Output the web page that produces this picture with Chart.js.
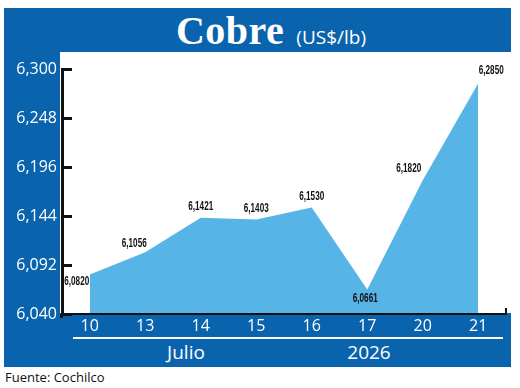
<!DOCTYPE html>
<html lang="es">
<head>
  <meta charset="UTF-8">
  <title>Cobre (US$/lb)</title>
  <style>
    body {
      margin: 0;
      background: #fff;
      font-family: "Open Sans", sans-serif;
    }
    #wrap {
      position: relative;
      width: 520px;
      height: 388px;
      overflow: hidden;
    }
    #frame {
      position: absolute;
      left: 4px; top: 8px;
      width: 507px; height: 359px;
      background: #0a64ad;
    }
    #plotBg {
      position: absolute;
      left: 60px; top: 52px;
      width: 460px; height: 261px;
      background: #fff;
    }
    #title {
      position: absolute;
      left: 11px; top: 8px;
      width: 520px; height: 44px;
      text-align: center;
      color: #fff;
      line-height: 46px;
      white-space: nowrap;
    }
    #title .big {
      font-family: "Liberation Serif", serif;
      font-weight: bold;
      font-size: 40px;
      letter-spacing: 0.5px;
    }
    #title .unit {
      font-size: 19px;
      margin-left: 12px;
    }
    .group {
      position: absolute;
      top: 339px;
      color: #fff;
      font-size: 19px;
      line-height: 26px;
      transform: translateX(-50%);
    }
    #rule {
      position: absolute;
      left: 73px; top: 337px;
      width: 430px; height: 2px;
      background: #fff;
    }
    #source {
      position: absolute;
      left: 5px; top: 368px;
      font-size: 13px;
      color: #111;
    }
    canvas {
      position: absolute;
      left: 0; top: 0;
    }
  </style>
</head>
<body>
  <div id="wrap">
    <div id="frame"></div>
    <div id="plotBg"></div>
    <div id="title"><span class="big">Cobre</span><span class="unit">(US$/lb)</span></div>
    <div id="rule"></div>
    <div class="group" style="left:186px">Julio</div>
    <div class="group" style="left:369px">2026</div>
    <div id="source">Fuente: Cochilco</div>
    <canvas id="chart" width="520" height="388"></canvas>
  </div>

  <script src="https://cdn.jsdelivr.net/npm/chart.js"></script>
  <script>
    // days of July 2026
    const days = ['10', '13', '14', '15', '16', '17', '20', '21'];
    const prices = [6.0820, 6.1056, 6.1421, 6.1403, 6.1530, 6.0661, 6.1820, 6.2850];
    const yTicks = [6.040, 6.092, 6.144, 6.196, 6.248, 6.300];

    // where each value label sits relative to its point (px)
    const labelOffsets = [[-13, 7], [-11, -8], [0, -11], [0, -11], [0, -11], [-2, 9], [-14, -12], [13, -12]];

    const comma = (v, d) => v.toFixed(d).replace('.', ',');

    const decorPlugin = {
      id: 'decor',
      afterDatasetsDraw(chart) {
        const ctx = chart.ctx;
        const y = chart.scales.y;
        const area = chart.chartArea;
        ctx.save();
        // inward ticks on the y axis
        ctx.strokeStyle = '#111';
        ctx.lineWidth = 3;
        y.ticks.forEach(t => {
          const py = Math.round(y.getPixelForValue(t.value)) + 0.5;
          ctx.beginPath();
          ctx.moveTo(area.left, py);
          ctx.lineTo(area.left + 10, py);
          ctx.stroke();
        });
        // y axis runs a bit past the x axis
        ctx.beginPath();
        ctx.moveTo(area.left - 0.5, area.bottom);
        ctx.lineTo(area.left - 0.5, area.bottom + 4);
        ctx.stroke();
        // x axis line with small end tick
        ctx.lineWidth = 2;
        ctx.beginPath();
        ctx.moveTo(area.left, area.bottom);
        ctx.lineTo(area.right, area.bottom);
        ctx.lineTo(area.right, area.bottom - 6);
        ctx.stroke();

        // value labels, condensed bold
        const meta = chart.getDatasetMeta(0);
        ctx.fillStyle = '#111';
        ctx.font = "bold 12px 'Liberation Sans', sans-serif";
        ctx.textAlign = 'center';
        ctx.textBaseline = 'middle';
        meta.data.forEach((pt, i) => {
          const [dx, dy] = labelOffsets[i];
          ctx.save();
          ctx.translate(pt.x + dx, pt.y + dy);
          ctx.scale(0.68, 1);
          ctx.fillText(comma(prices[i], 4), 0, 0);
          ctx.restore();
        });
        ctx.restore();
      }
    };

    new Chart(document.getElementById('chart'), {
      type: 'line',
      data: {
        labels: days,
        datasets: [{
          data: prices,
          fill: 'start',
          backgroundColor: '#56b4e6',
          borderWidth: 0,
          pointRadius: 0,
          tension: 0
        }]
      },
      options: {
        responsive: false,
        animation: false,
        layout: { padding: { left: 0, right: 14, top: 69, bottom: 0 } },
        plugins: {
          legend: { display: false },
          tooltip: { enabled: false }
        },
        scales: {
          x: {
            offset: true,
            grid: { display: false, drawTicks: false },
            border: { display: false },
            ticks: {
              color: '#fff',
              padding: 3,
              font: { family: 'Open Sans', size: 16 },
              maxRotation: 0
            },
            afterFit(scale) { scale.height = 74; }
          },
          y: {
            min: 6.04,
            max: 6.30,
            grid: { display: false, drawTicks: false },
            border: { display: true, color: '#111', width: 3 },
            afterBuildTicks(scale) {
              scale.ticks = yTicks.map(v => ({ value: v }));
            },
            ticks: {
              color: '#fff',
              padding: 5,
              font: { family: 'Open Sans', size: 16 },
              callback: v => comma(v, 3)
            },
            afterFit(scale) { scale.width = 62; }
          }
        }
      },
      plugins: [decorPlugin]
    });
  </script>
</body>
</html>
